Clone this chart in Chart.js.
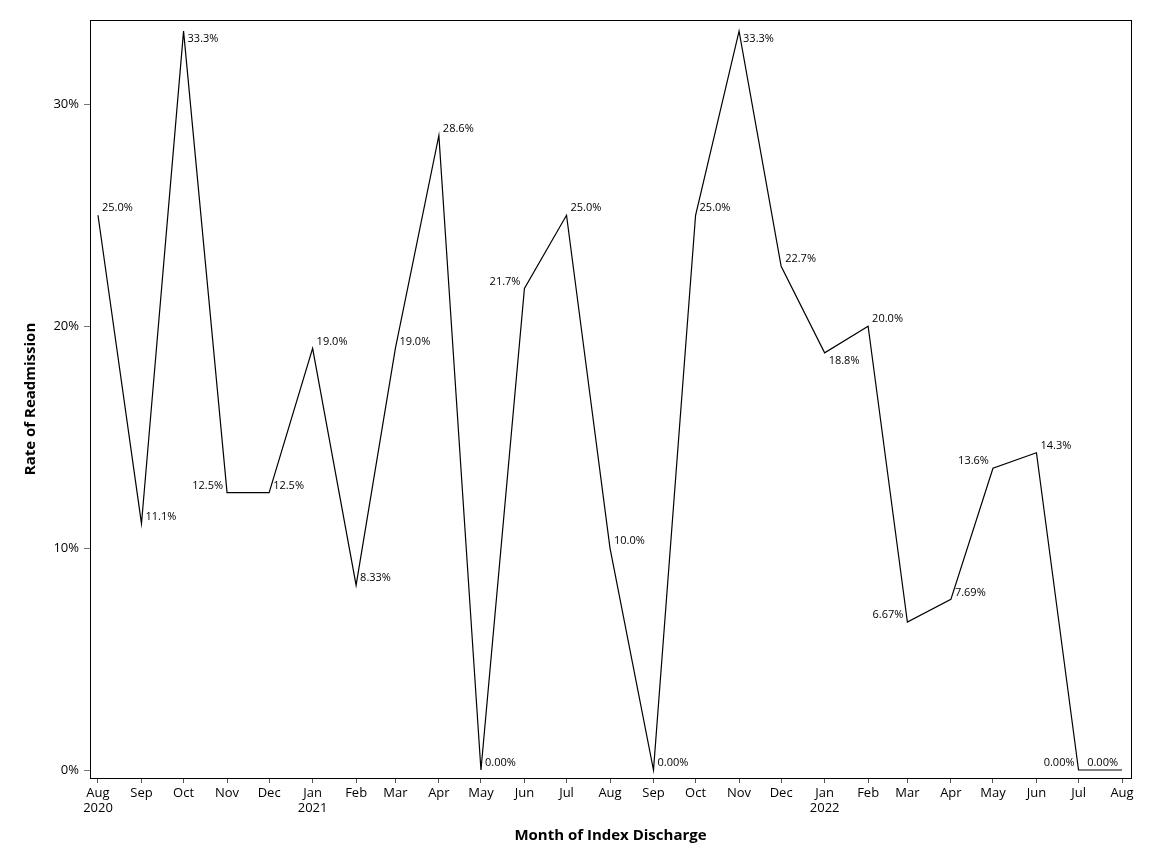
<!DOCTYPE html>
<html>
<head>
<meta charset="utf-8">
<script src="https://cdn.jsdelivr.net/npm/chart.js@4"></script>
<style>
  html, body { margin: 0; padding: 0; background: #fff; }
  #wrap { width: 1152px; height: 864px; }
</style>
</head>
<body>
<div id="wrap"><canvas id="chart"></canvas></div>
<script>
// data
const monthStarts = ['2020-08-01', '2020-09-01', '2020-10-01', '2020-11-01', '2020-12-01',
  '2021-01-01', '2021-02-01', '2021-03-01', '2021-04-01', '2021-05-01', '2021-06-01',
  '2021-07-01', '2021-08-01', '2021-09-01', '2021-10-01', '2021-11-01', '2021-12-01',
  '2022-01-01', '2022-02-01', '2022-03-01', '2022-04-01', '2022-05-01', '2022-06-01',
  '2022-07-01', '2022-08-01'];
const monthNames = ['Aug', 'Sep', 'Oct', 'Nov', 'Dec', 'Jan', 'Feb', 'Mar', 'Apr', 'May', 'Jun',
  'Jul', 'Aug', 'Sep', 'Oct', 'Nov', 'Dec', 'Jan', 'Feb', 'Mar', 'Apr', 'May', 'Jun', 'Jul', 'Aug'];
const yearNames = ['2020', '', '', '', '', '2021', '', '', '', '', '', '', '', '', '', '', '',
  '2022', '', '', '', '', '', '', ''];
const readmitRate = [25.0, 11.1, 33.3, 12.5, 12.5, 19.0, 8.33, 19.0, 28.6, 0.00, 21.7, 25.0,
  10.0, 0.00, 25.0, 33.3, 22.7, 18.8, 20.0, 6.67, 7.69, 13.6, 14.3, 0.00, 0.00];
const yTicks = [0, 10, 20, 30];

// where each point label sits: r = right/above, l = left/above, rb = right/below
const labelSide = ['r', 'r', 'rb', 'l', 'r', 'r', 'r', 'r', 'r', 'r', 'l', 'r', 'r', 'r', 'r',
  'rb', 'r', 'rb', 'r', 'l', 'r', 'l', 'r', 'l', 'l'];

const FONT = '"Open Sans", "DejaVu Sans", sans-serif';
const DAY = 86400000;
const t0 = Date.parse(monthStarts[0]);
const dayOf = s => (Date.parse(s) - t0) / DAY;
const xDays = monthStarts.map(dayOf);

const pointLabels = {
  id: 'pointLabels',
  afterDatasetsDraw(chart) {
    const ctx = chart.ctx;
    const meta = chart.getDatasetMeta(0);
    ctx.save();
    ctx.font = '11px ' + FONT;
    ctx.fillStyle = '#000';
    ctx.textBaseline = 'middle';
    meta.data.forEach((pt, i) => {
      const side = labelSide[i];
      const txt = readmitRate[i].toPrecision(3) + '%';
      ctx.textAlign = side === 'l' ? 'right' : 'left';
      const x = side === 'l' ? pt.x - 4 : pt.x + 4;
      const y = side === 'rb' ? pt.y + 8 : pt.y - 7;
      ctx.fillText(txt, x, y);
    });
    ctx.restore();
  }
};

const frameBox = {
  id: 'frameBox',
  afterDraw(chart) {
    const a = chart.chartArea;
    const ctx = chart.ctx;
    ctx.save();
    ctx.strokeStyle = '#000';
    ctx.lineWidth = 1;
    ctx.strokeRect(Math.round(a.left) + 0.5, Math.round(a.top) + 0.5,
      Math.round(a.right - a.left), Math.round(a.bottom - a.top));
    ctx.restore();
  }
};

new Chart(document.getElementById('chart'), {
  type: 'line',
  data: {
    datasets: [{
      data: readmitRate.map((v, i) => ({ x: xDays[i], y: v })),
      borderColor: '#000',
      borderWidth: 1.2,
      pointRadius: 0,
      tension: 0,
      fill: false
    }]
  },
  options: {
    responsive: true,
    maintainAspectRatio: false,
    animation: false,
    layout: { padding: { top: 20, right: 21, bottom: 0, left: 0 } },
    plugins: {
      legend: { display: false },
      tooltip: { enabled: false }
    },
    scales: {
      x: {
        type: 'linear',
        min: -5.7,
        max: 736.4,
        afterBuildTicks: axis => {
          axis.ticks = xDays.map(v => ({ value: v }));
        },
        afterFit: axis => { axis.height = 86; },
        ticks: {
          autoSkip: false,
          maxRotation: 0,
          padding: 2,
          color: '#000',
          font: { family: FONT, size: 13, lineHeight: 1.2 },
          callback: (v, i) => yearNames[i] ? [monthNames[i], yearNames[i]] : monthNames[i]
        },
        grid: { drawOnChartArea: false, drawTicks: true, tickLength: 5, tickColor: '#555' },
        border: { display: false },
        title: {
          display: true,
          text: 'Month of Index Discharge',
          color: '#000',
          font: { family: FONT, size: 15, weight: 'bold' },
          padding: { top: 0, bottom: 19 }
        }
      },
      y: {
        min: -0.36,
        max: 33.8,
        afterBuildTicks: axis => {
          axis.ticks = yTicks.map(v => ({ value: v }));
        },
        afterFit: axis => { axis.width = 90; },
        ticks: {
          padding: 5,
          color: '#000',
          font: { family: FONT, size: 13 },
          callback: v => v + '%'
        },
        grid: { drawOnChartArea: false, drawTicks: true, tickLength: 6, tickColor: '#777' },
        border: { display: false },
        title: {
          display: true,
          text: 'Rate of Readmission',
          color: '#000',
          font: { family: FONT, size: 15, weight: 'bold' },
          padding: { top: 22, bottom: 0 }
        }
      }
    }
  },
  plugins: [pointLabels, frameBox]
});
</script>
</body>
</html>
